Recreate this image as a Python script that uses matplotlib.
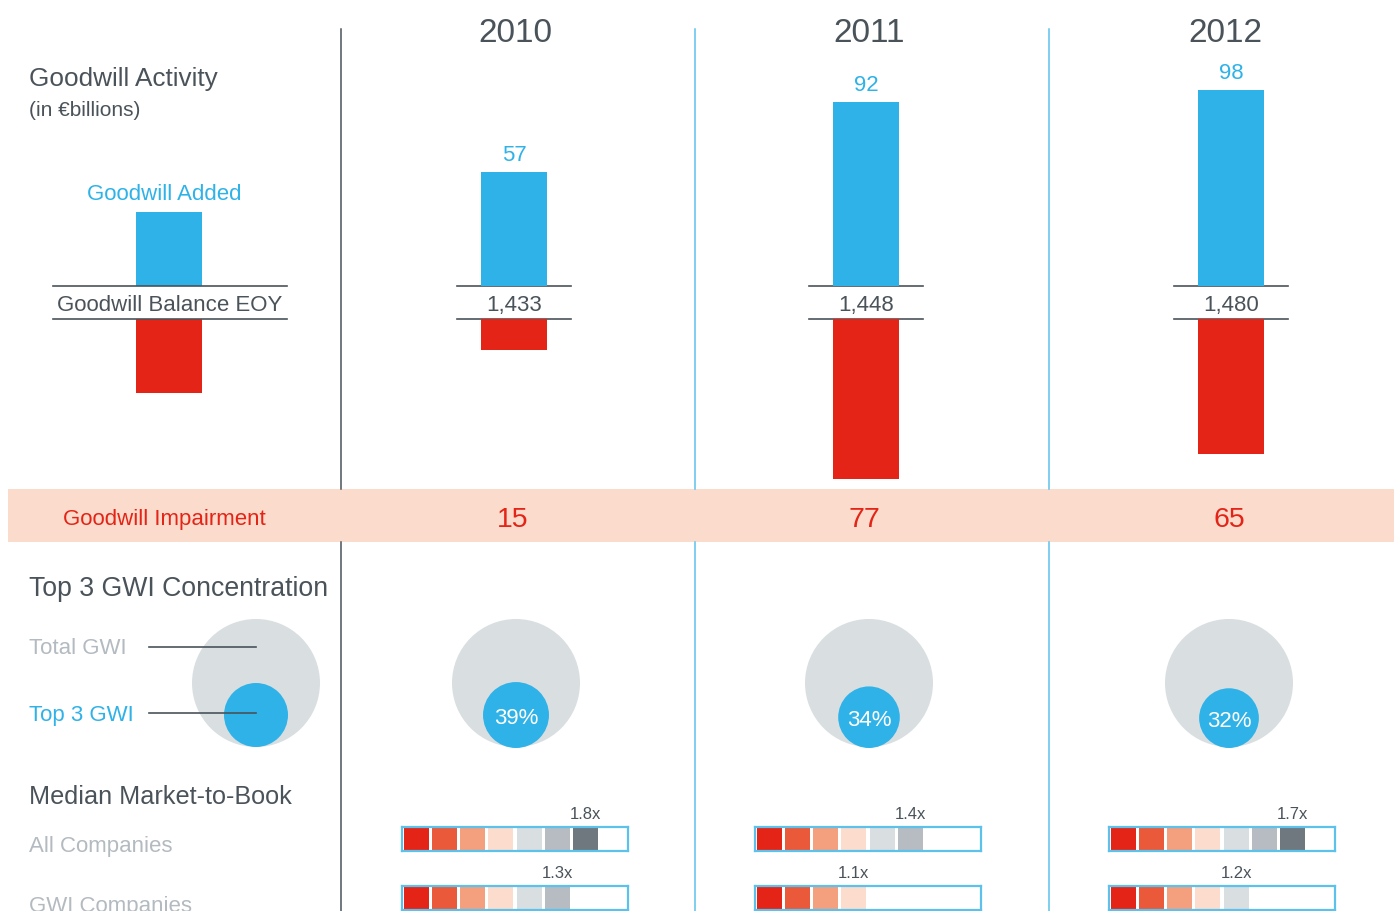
import numpy as np
import matplotlib
matplotlib.use("Agg")
from matplotlib import pyplot as plt
from matplotlib.patches import Circle, Rectangle

plt.rcParams["font.family"] = ["Liberation Sans", "DejaVu Sans"]

# data
years = ["2010", "2011", "2012"]
goodwill_added = [57, 92, 98]
goodwill_balance = ["1,433", "1,448", "1,480"]
goodwill_impairment = [15, 77, 65]
top3_share = [39, 34, 32]
mtb_all = ["1.8x", "1.4x", "1.7x"]
mtb_all_cells = [7, 6, 7]
mtb_gwi = ["1.3x", "1.1x", "1.2x"]
mtb_gwi_cells = [6, 4, 5]

# colours
BLUE = "#2EB2E8"
RED = "#E32416"
BAND = "#FBDCCC"
DARK = "#4A535A"
LIGHT = "#B3BAC0"
GREY_CIRCLE = "#D9DEE1"
LINE_BLUE = "#5CC2EC"
CELL_COLORS = ["#E32416", "#EA5A3A", "#F4A07F", "#FCDCCD",
               "#D9DEE1", "#B6BCC2", "#6E787E", "#FFFFFF"]

W, H = 1394, 912
fig = plt.figure(figsize=(W / 100, H / 100), dpi=100)


def px_axes(x0, y0, x1, y1):
    ax = fig.add_axes([x0 / W, 1 - y1 / H, (x1 - x0) / W, (y1 - y0) / H])
    ax.patch.set_alpha(0)
    return ax


bg = fig.add_axes([0, 0, 1, 1])
bg.set_xlim(0, W)
bg.set_ylim(H, 0)
bg.axis("off")


def label(x, y, s, **kw):
    # centre-aligned text nudged down to sit like the original
    kw.setdefault("va", "center")
    bg.text(x, y + 2, s, **kw)


col_x = [514, 866, 1231]
year_x = [515, 869, 1225]
circle_x = [516, 869, 1229]
box_left = [402, 755, 1109]

# impairment band
bg.add_patch(Rectangle((8, 490), W - 8, 53, color=BAND, lw=0))
label(164, 518, "Goodwill Impairment", color=RED, fontsize=16, ha="center")
for cx, v in zip([513, 864, 1229], goodwill_impairment):
    label(cx, 518, str(v), color=RED, fontsize=20.5, ha="center")

# column separators
for x, c in [(341, DARK), (695, LINE_BLUE), (1049, LINE_BLUE)]:
    bg.plot([x, x], [30, 490], color=c, lw=1.1)
    bg.plot([x, x], [543, H], color=c, lw=1.1)

# headings
for cx, yr in zip(year_x, years):
    label(cx, 32, yr, color=DARK, fontsize=24, ha="center")
label(29, 77, "Goodwill Activity", color=DARK, fontsize=18.8)
label(29, 109, "(in €billions)", color=DARK, fontsize=15)
label(29, 587, "Top 3 GWI Concentration", color=DARK, fontsize=19.2)
label(29, 795, "Median Market-to-Book", color=DARK, fontsize=18.2)
label(29, 845, "All Companies", color=LIGHT, fontsize=16)
label(29, 905, "GWI Companies", color=LIGHT, fontsize=16)

# legend for the bars
label(164, 193, "Goodwill Added", color=BLUE, fontsize=16, ha="center")
bg.add_patch(Rectangle((136, 213), 66, 74, color=BLUE, lw=0))
bg.add_patch(Rectangle((136, 320), 66, 74, color=RED, lw=0))
bg.plot([53, 287], [287, 287], color=DARK, lw=1.2)
bg.plot([53, 287], [320, 320], color=DARK, lw=1.2)
label(170, 304, "Goodwill Balance EOY", color=DARK, fontsize=16, ha="center")

# balance labels between bars
for cx, bal in zip(col_x, goodwill_balance):
    bg.plot([cx - 57, cx + 57], [287, 287], color=DARK, lw=1.2)
    bg.plot([cx - 57, cx + 57], [320, 320], color=DARK, lw=1.2)
    label(cx, 304, bal, color=DARK, fontsize=16, ha="center")

# goodwill added bars (2 px per billion)
ax_add = px_axes(341, 0, W, 287)
ax_add.set_xlim(341, W)
ax_add.set_ylim(0, 287 / 2.0)
ax_add.axis("off")
ax_add.bar(col_x, goodwill_added, width=66, color=BLUE)
for cx, v in zip(col_x, goodwill_added):
    ax_add.annotate(str(v), (cx, v), xytext=(0, 5), textcoords="offset points",
                    ha="center", va="bottom", color=BLUE, fontsize=16)

# impairment bars, hanging down
ax_imp = px_axes(341, 320, W, 490)
ax_imp.set_xlim(341, W)
ax_imp.set_ylim(170 / 2.08, 0)
ax_imp.axis("off")
ax_imp.bar(col_x, goodwill_impairment, width=66, color=RED)

# concentration circles
bg.add_patch(Circle((256, 684), 64, color=GREY_CIRCLE, lw=0))
bg.add_patch(Circle((256, 716), 32, color=BLUE, lw=0))
label(29, 647, "Total GWI", color=LIGHT, fontsize=16)
label(29, 714, "Top 3 GWI", color=BLUE, fontsize=16)
bg.plot([149, 256], [648, 648], color=DARK, lw=1.2)
bg.plot([149, 256], [714, 714], color=DARK, lw=1.2)

for cx, p in zip(circle_x, top3_share):
    r = 52.8 * np.sqrt(p / 100)
    bg.add_patch(Circle((cx, 684), 64, color=GREY_CIRCLE, lw=0))
    bg.add_patch(Circle((cx, 749 - r), r, color=BLUE, lw=0))
    label(cx, 749 - r, f"{p}%", color="white", fontsize=16, ha="center")

# market-to-book cell bars
for left, rows in zip(box_left, zip(zip(mtb_all, mtb_all_cells),
                                    zip(mtb_gwi, mtb_gwi_cells))):
    for top, (txt, n) in zip([828, 887], rows):
        ax = px_axes(left, top, left + 226, top + 24)
        ax.set_xlim(0, 8)
        ax.set_ylim(-0.06, 1.06)
        ax.set_xticks([])
        ax.set_yticks([])
        for s in ax.spines.values():
            s.set_color(LINE_BLUE)
            s.set_linewidth(1.6)
        ax.bar(np.arange(n) + 0.5, 1, width=0.88, bottom=0,
               color=CELL_COLORS[:n])
        ax.annotate(txt, (n - 0.5, 1.06), xytext=(0, 4),
                    textcoords="offset points", ha="center", va="bottom",
                    color=DARK, fontsize=12, annotation_clip=False)

fig.savefig("out.png", dpi=100)
